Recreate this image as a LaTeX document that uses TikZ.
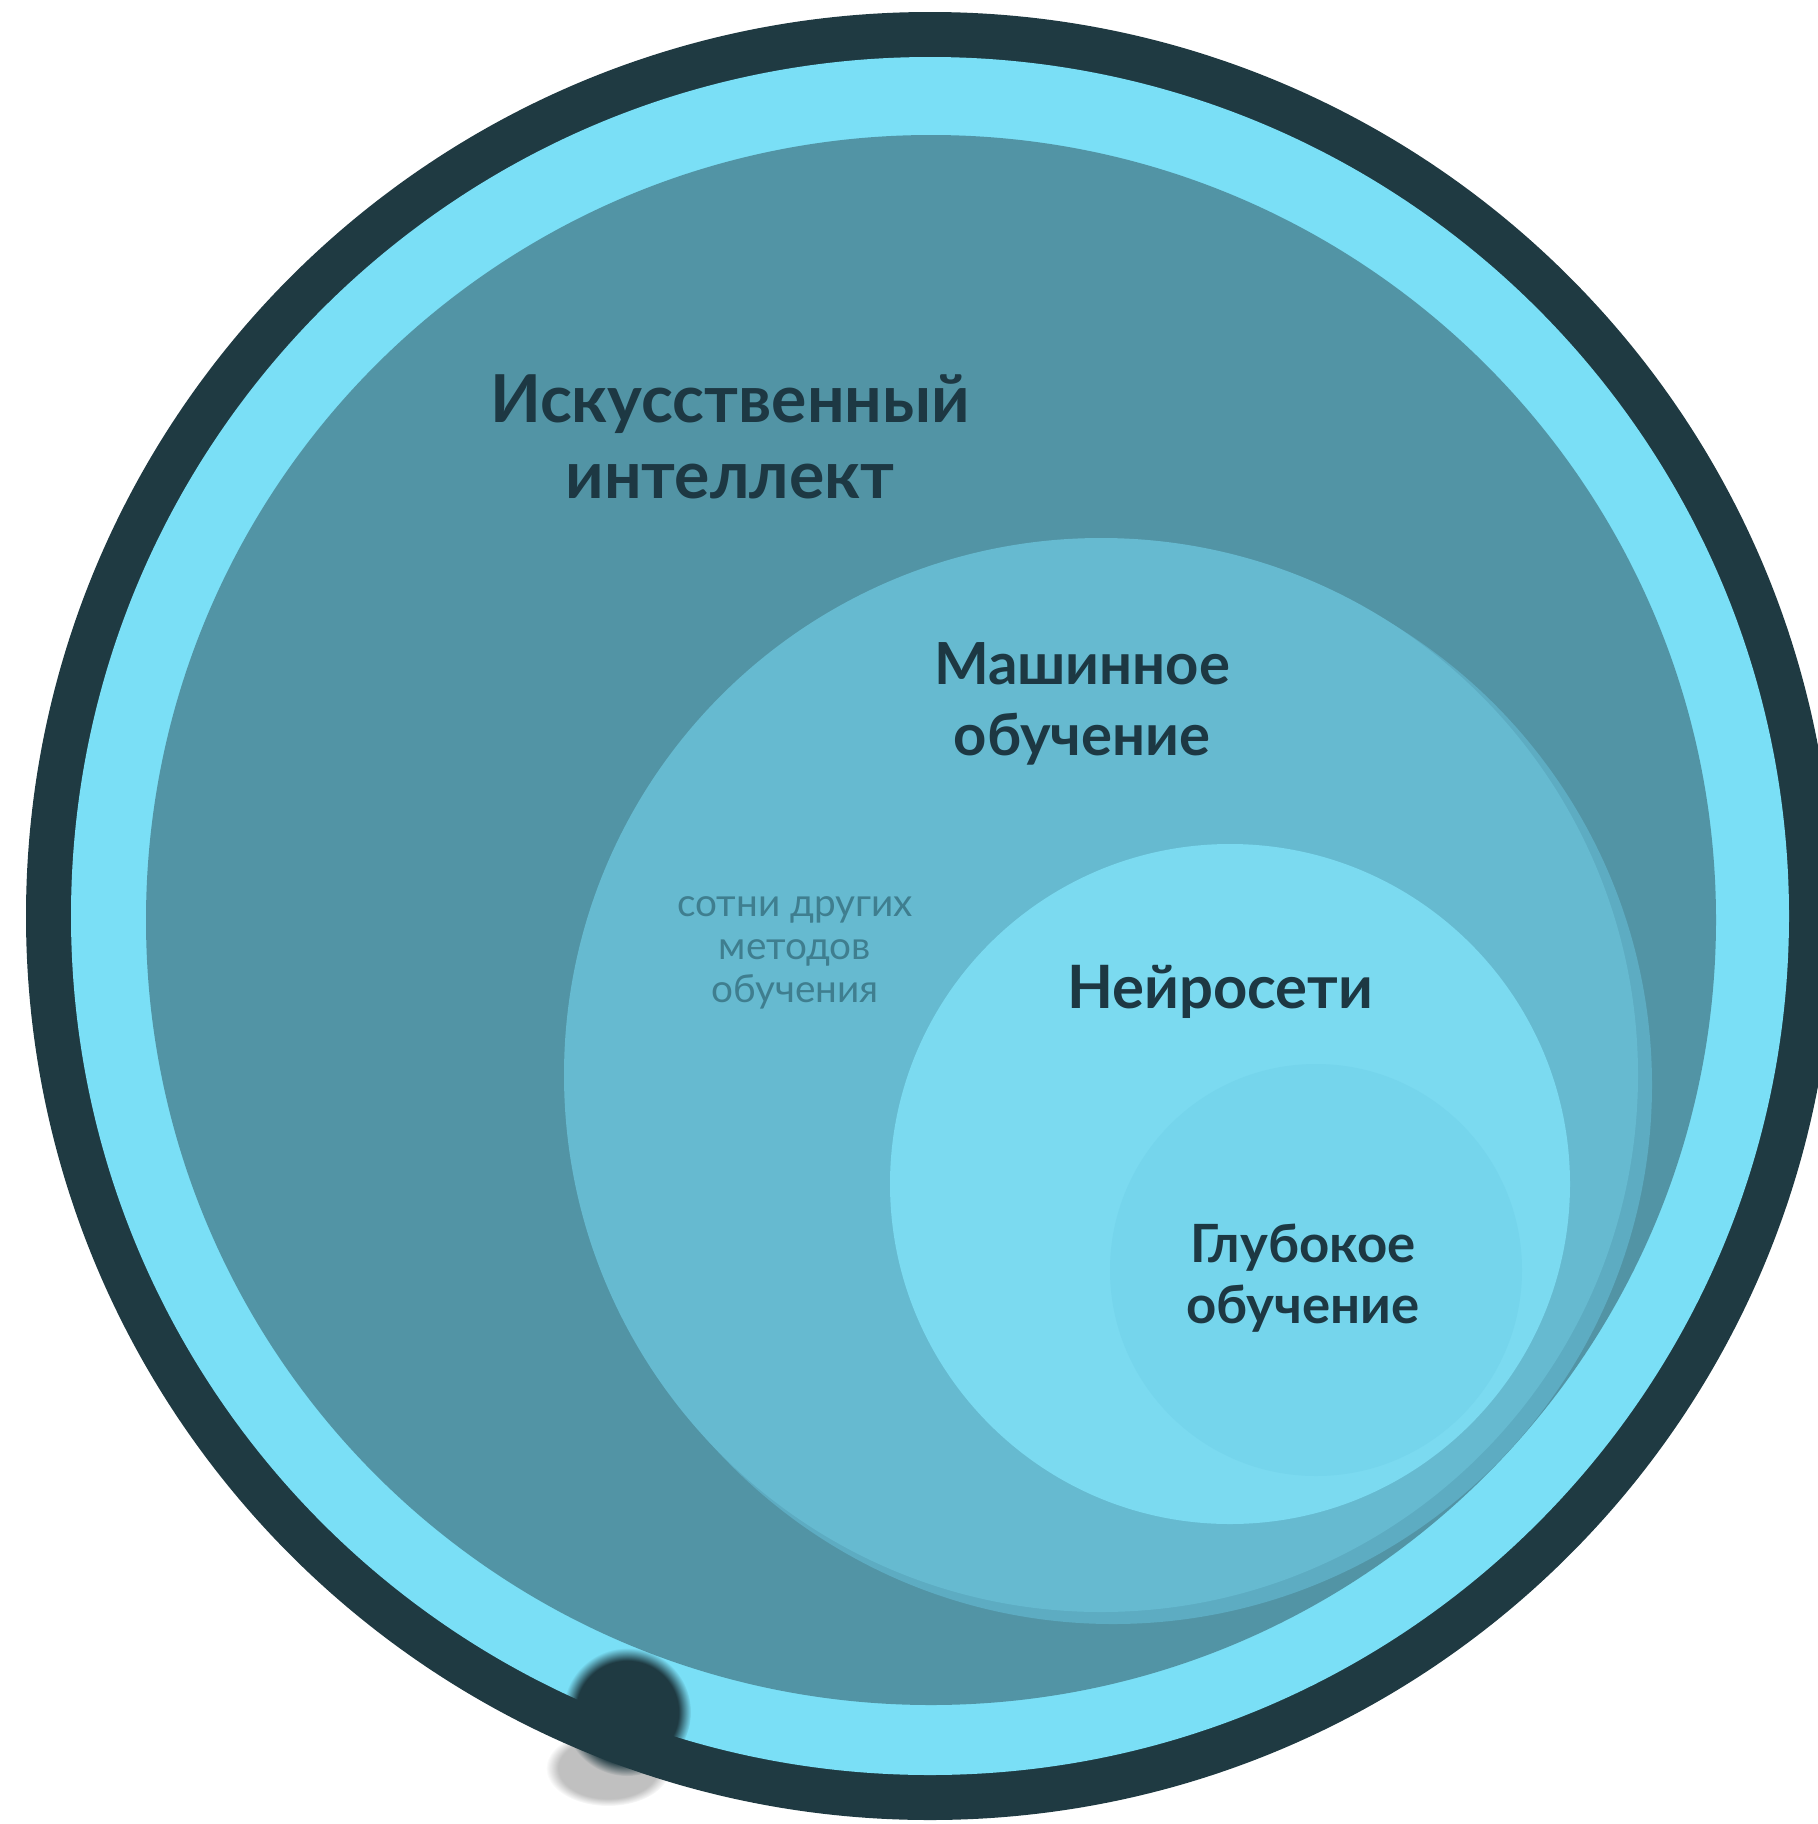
\documentclass[tikz,border=0pt]{standalone}
\usepackage{fontspec}
\setmainfont{Lato}
\usetikzlibrary{fadings}
\definecolor{ringdark}{HTML}{1F3A42}
\definecolor{ringcyan}{HTML}{7ADFF6}
\definecolor{aiteal}{HTML}{5294A5}
\definecolor{mlshade}{HTML}{5DACC2}
\definecolor{mlblue}{HTML}{66BAD0}
\definecolor{nnblue}{HTML}{7BDAF0}
\definecolor{dlblue}{HTML}{75D5EC}
\definecolor{labeltext}{HTML}{1D3843}
\definecolor{smalltext}{HTML}{3F7E8F}

\begin{document}
\begin{tikzpicture}[x=0.01cm,y=-0.01cm,
  biglabel/.style={text=labeltext,align=center},
  smalllabel/.style={text=smalltext,align=center}]
 \clip (0,0) rectangle (1818,1824);
 \fill[white] (0,0) rectangle (1818,1824);
 % shadow under the dot
 \fill[black!70,opacity=0.35,path fading=circle with fuzzy edge 20 percent] (608,1768) ellipse (62 and 38);
 % rings
 \fill[ringdark] (930,916) circle (904);
 \fill[ringcyan] (930,916) circle (859);
 \fill[aiteal] (931,920) circle (785);
 \begin{scope}
  \clip (931,920) circle (785);
  \fill[mlshade] (1113,1085) circle (539);
 \end{scope}
 \fill[mlblue] (1101,1075) circle (537);
 \fill[nnblue] (1230,1184) circle (340);
 \fill[dlblue] (1316,1270) circle (206);
 % dot on the ring
 \fill[ringdark,path fading=circle with fuzzy edge 20 percent] (627,1712) circle (64);
 % labels
 \node[biglabel,font=\bfseries\fontsize{18.8pt}{21.6pt}\selectfont] (ai) at (730,437) {Искусственный\\интеллект};
 \node[biglabel,font=\bfseries\fontsize{16.5pt}{20pt}\selectfont] (ml) at (1082,704) {Машинное\\обучение};
 \node[smalllabel,font=\fontsize{11pt}{12.3pt}\selectfont] (other) at (795,953) {сотни других\\методов\\обучения};
 \node[biglabel,font=\bfseries\fontsize{17pt}{20pt}\selectfont] (nn) at (1220,992) {Нейросети};
 \node[biglabel,font=\bfseries\fontsize{15pt}{17.5pt}\selectfont] (dl) at (1303,1278) {Глубокое\\обучение};
\end{tikzpicture}
\end{document}
